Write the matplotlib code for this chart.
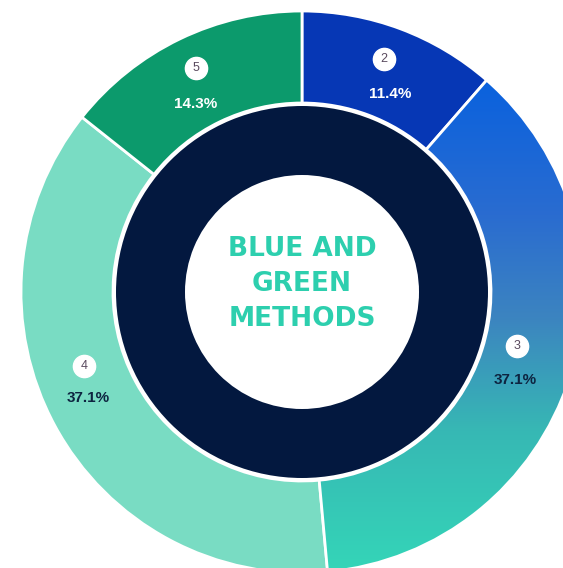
import numpy as np
import matplotlib.pyplot as plt
from matplotlib.colors import LinearSegmentedColormap

# --- data ---
methods = ["2", "3", "4", "5"]
shares = [11.4, 37.1, 37.1, 14.3]
pct_labels = ["11.4%", "37.1%", "37.1%", "14.3%"]
colors = ["#0637b5", "#0a60dc", "#79dcc3", "#0c9a6c"]
text_colors = ["white", "#0d2440", "#0d2440", "white"]
center_title = "BLUE AND\nGREEN\nMETHODS"

# --- layout in pixel units ---
W, H = 563, 568
cx, cy = 302, H - 292
R_out, R_in = 281, 189

fig = plt.figure(figsize=(W / 100, H / 100), dpi=100)
ax = fig.add_axes([0, 0, 1, 1])

wedges, _ = ax.pie(shares, radius=R_out, center=(cx, cy), startangle=90,
                   counterclock=False, colors=colors,
                   wedgeprops=dict(width=R_out - R_in, edgecolor="white", linewidth=2))

# gradient fill for slice 3 (blue at top -> teal at bottom)
grad_cmap = LinearSegmentedColormap.from_list(
    "bluegreen",
    [(0.0, "#0560e0"), (0.30, "#2a6cd0"), (0.50, "#3c84c0"),
     (0.72, "#37b8b4"), (1.0, "#34d6b8")])
g = np.linspace(0, 1, 256).reshape(-1, 1)
im = ax.imshow(g, cmap=grad_cmap, extent=(cx, cx + R_out + 5, H - 575, H - 60),
               aspect="auto", zorder=wedges[1].get_zorder() + 0.1)
im.set_clip_path(wedges[1])
wedges[1].set_zorder(im.get_zorder() + 0.1)
wedges[1].set_facecolor("none")

# dark inner ring
ax.pie([1], radius=186, center=(cx, cy), colors=["#03183f"],
       wedgeprops=dict(width=186 - 117, edgecolor="none"))

# labels: numbered circle + percent
circle_pos = [(384, 59), (517, 346), (84, 366), (196, 68)]
pct_pos = [(390, 94), (515, 380), (88, 398), (196, 104)]
for i, m in enumerate(methods):
    x, y = circle_pos[i]
    ax.plot(x, H - y, "o", ms=16, mfc="white", mec="white", zorder=10)
    ax.text(x, H - y, m, ha="center", va="center", fontsize=9,
            color="#5a4a5e", zorder=11, family="Liberation Sans")
    px, py = pct_pos[i]
    ax.text(px, H - py, pct_labels[i], ha="center", va="center", fontsize=11,
            fontweight="bold", color=text_colors[i], zorder=11, family="Liberation Sans")

ax.text(cx, H - 284, center_title, ha="center", va="center", fontsize=19,
        fontweight="bold", color="#2dcfae", linespacing=1.45, zorder=12)

ax.set_xlim(0, W)
ax.set_ylim(0, H)
ax.set_aspect("equal")
ax.axis("off")

fig.savefig("out.png", dpi=100)
